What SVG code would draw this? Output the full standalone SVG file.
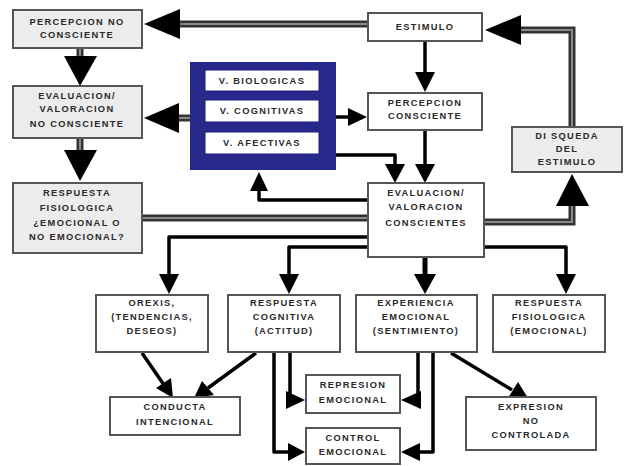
<svg xmlns="http://www.w3.org/2000/svg" width="624" height="466" viewBox="0 0 624 466">
<defs>
<style>
.t{font-family:"Liberation Sans",Arial,sans-serif;font-weight:bold;font-size:9.3px;letter-spacing:1.3px;fill:#2a2a2a;text-anchor:middle}
.g{fill:#ececec;stroke:#555;stroke-width:2}
.w{fill:#fff;stroke:#555;stroke-width:2}
.iw{fill:#fff;stroke:#1a1a80;stroke-width:1}
.ln{fill:none;stroke:#000;stroke-width:3.5;stroke-linejoin:round}
.gb{fill:none;stroke:#333;stroke-width:7}
.gc{fill:none;stroke:#8a8a8a;stroke-width:2}
.ah{fill:#000}
</style>
</defs>
<rect width="624" height="466" fill="#fff"/>
<g id="connectors">
  <path class="gb" d="M368,24 H176"/><path class="gc" d="M368,24 H176"/>
  <polygon class="ah" points="144,24 180,9 180,39"/>
  <path class="gb" d="M80,48 V58"/><path class="gc" d="M80,48 V58"/>
  <polygon class="ah" points="80,86 64,56 97,56"/>
  <path class="gb" d="M80,138 V152"/><path class="gc" d="M80,138 V152"/>
  <polygon class="ah" points="80,181 64,150 97,150"/>
  <path class="gb" d="M190,118 H176"/><path class="gc" d="M190,118 H176"/>
  <polygon class="ah" points="144,118 179,103 179,133"/>
  <path class="ln" d="M425,41 V74"/>
  <polygon class="ah" points="425,92 415,72 435,72"/>
  <path class="ln" d="M336,117 H350"/>
  <polygon class="ah" points="367,117 348,108 348,126"/>
  <path class="ln" d="M336,155 H395 V166"/>
  <polygon class="ah" points="395,183 385,164 405,164"/>
  <path class="ln" d="M425,130 V166"/>
  <polygon class="ah" points="425,183 415,164 435,164"/>
  <path class="ln" d="M368,200 H259 V188"/>
  <polygon class="ah" points="259,172 250,191 268,191"/>
  <path class="gb" d="M142,218 H368"/><path class="gc" d="M142,218 H368"/>
  <path class="gb" d="M484,222 H572 V204"/><path class="gc" d="M484,222 H572 V204"/>
  <polygon class="ah" points="572,174 556,206 589,206"/>
  <path class="gb" d="M572,127 V30 H518"/><path class="gc" d="M572,127 V30 H518"/>
  <polygon class="ah" points="485,30 521,15 521,45"/>
  <path class="ln" d="M368,237 H169 V276"/>
  <polygon class="ah" points="169,294 159,274 179,274"/>
  <path class="ln" d="M368,247 H289 V276"/>
  <polygon class="ah" points="289,294 279,274 299,274"/>
  <path d="M425,257 V276" style="fill:none;stroke:#000;stroke-width:5"/>
  <polygon class="ah" points="425,294 414,274 436,274"/>
  <path class="ln" d="M484,247 H566 V276"/>
  <polygon class="ah" points="566,294 556,274 576,274"/>
  <path class="ln" d="M142,353 L164,385"/>
  <polygon class="ah" points="173,398 156,388 171,378"/>
  <path class="ln" d="M256,353 L208,388"/>
  <polygon class="ah" points="194,398 202,381 214,395"/>
  <path class="ln" d="M290,352 V400 H292"/>
  <polygon class="ah" points="305,400 286,391 286,409"/>
  <path class="ln" d="M274,352 V452 H290"/>
  <polygon class="ah" points="305,452 288,443 288,461"/>
  <path class="ln" d="M418,352 V400 H416"/>
  <polygon class="ah" points="401,400 421,391 421,409"/>
  <path class="ln" d="M433,352 V452 H418"/>
  <polygon class="ah" points="401,452 420,443 420,461"/>
  <path class="ln" d="M451,353 L512,390"/>
  <polygon class="ah" points="528,398 508,398 518,382"/>
</g>
<g id="n-pnc"><rect class="g" x="13" y="10" width="129" height="38"/><text class="t" x="77" y="25">PERCEPCION NO</text><text class="t" x="77" y="38">CONSCIENTE</text></g>
<g id="n-estimulo"><rect class="w" x="368" y="13" width="114" height="28"/><text class="t" x="425" y="30">ESTIMULO</text></g>
<g id="n-enc"><rect class="g" x="13" y="86" width="129" height="52"/><text class="t" x="77" y="99">EVALUACION/</text><text class="t" x="77" y="112">VALORACION</text><text class="t" x="77" y="127">NO CONSCIENTE</text></g>
<g id="n-variables"><rect x="190" y="62" width="146" height="108" fill="#29298c"/>
  <rect class="iw" x="205" y="70" width="114" height="21"/><text class="t" x="262" y="84">V. BIOLOGICAS</text>
  <rect class="iw" x="205" y="100" width="114" height="22"/><text class="t" x="262" y="114">V. COGNITIVAS</text>
  <rect class="iw" x="205" y="132" width="114" height="22"/><text class="t" x="262" y="146">V. AFECTIVAS</text></g>
<g id="n-pc"><rect class="w" x="368" y="93" width="114" height="37"/><text class="t" x="425" y="106">PERCEPCION</text><text class="t" x="425" y="119">CONSCIENTE</text></g>
<g id="n-disqueda"><rect class="g" x="512" y="127" width="110" height="45"/><text class="t" x="567" y="139">DI SQUEDA</text><text class="t" x="567" y="152">DEL</text><text class="t" x="567" y="165">ESTIMULO</text></g>
<g id="n-rf"><rect class="g" x="13" y="183" width="129" height="70"/><text class="t" x="77" y="196">RESPUESTA</text><text class="t" x="77" y="211">FISIOLOGICA</text><text class="t" x="77" y="226">¿EMOCIONAL O</text><text class="t" x="77" y="240">NO EMOCIONAL?</text></g>
<g id="n-ec"><rect class="w" x="368" y="183" width="116" height="74"/><text class="t" x="426" y="196">EVALUACION/</text><text class="t" x="426" y="210">VALORACION</text><text class="t" x="426" y="226">CONSCIENTES</text></g>
<g id="n-orexis"><rect class="w" x="96" y="295" width="112" height="57"/><text class="t" x="152" y="306">OREXIS,</text><text class="t" x="152" y="320">(TENDENCIAS,</text><text class="t" x="152" y="334">DESEOS)</text></g>
<g id="n-rc"><rect class="w" x="228" y="295" width="112" height="57"/><text class="t" x="284" y="306">RESPUESTA</text><text class="t" x="284" y="320">COGNITIVA</text><text class="t" x="284" y="334">(ACTITUD)</text></g>
<g id="n-exp"><rect class="w" x="356" y="295" width="121" height="57"/><text class="t" x="416" y="306">EXPERIENCIA</text><text class="t" x="416" y="320">EMOCIONAL</text><text class="t" x="416" y="334">(SENTIMIENTO)</text></g>
<g id="n-rfe"><rect class="w" x="493" y="295" width="112" height="57"/><text class="t" x="549" y="306">RESPUESTA</text><text class="t" x="549" y="320">FISIOLOGICA</text><text class="t" x="549" y="334">(EMOCIONAL)</text></g>
<g id="n-conducta"><rect class="w" x="110" y="397" width="130" height="38"/><text class="t" x="175" y="410">CONDUCTA</text><text class="t" x="175" y="425">INTENCIONAL</text></g>
<g id="n-represion"><rect class="w" x="306" y="375" width="94" height="38"/><text class="t" x="353" y="388">REPRESION</text><text class="t" x="353" y="403">EMOCIONAL</text></g>
<g id="n-control"><rect class="w" x="306" y="428" width="94" height="36"/><text class="t" x="353" y="441">CONTROL</text><text class="t" x="353" y="455">EMOCIONAL</text></g>
<g id="n-expresion"><rect class="w" x="466" y="397" width="130" height="53"/><text class="t" x="531" y="410">EXPRESION</text><text class="t" x="531" y="424">NO</text><text class="t" x="531" y="438">CONTROLADA</text></g>
</svg>
